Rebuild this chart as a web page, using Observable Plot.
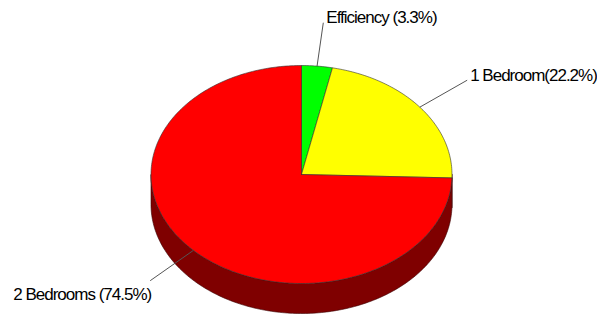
<!DOCTYPE html>
<html>
<head>
<meta charset="utf-8">
<script src="https://cdn.jsdelivr.net/npm/d3@7"></script>
<script src="https://cdn.jsdelivr.net/npm/@observablehq/plot@0.6"></script>
<style>
  html, body { margin: 0; padding: 0; background: #fff; }
</style>
</head>
<body>
<div id="chart"></div>
<script>
// ---- data ----
const categories = ["Efficiency", "1 Bedroom", "2 Bedrooms"];
const shares = [3.3, 22.2, 74.5];
const labels = ["Efficiency (3.3%)", "1 Bedroom(22.2%)", "2 Bedrooms (74.5%)"];
const topColors = ["#00ff00", "#ffff00", "#ff0000"];
const sideColors = ["#008000", "#808000", "#7f0000"];

// ---- layout (pixel geometry of the tilted pie) ----
const W = 597, H = 318;
const cx = 301, cy = 174, rx = 150.5, ry = 109, depthPx = 30;
const depth = depthPx / ry; // in y-units
const leader = 1.4;         // leader line end, as fraction of radius

const total = d3.sum(shares);
let acc = 0;
const slices = categories.map((c, i) => {
  const a0 = acc / total * 360;
  acc += shares[i];
  const a1 = acc / total * 360;
  return {category: c, label: labels[i], a0, a1, mid: (a0 + a1) / 2, top: topColors[i], side: sideColors[i]};
});

const rad = a => a * Math.PI / 180;
const px = a => Math.sin(rad(a));
const py = a => -Math.cos(rad(a));
const arc = (a0, a1) => {
  const n = Math.max(2, Math.ceil(Math.abs(a1 - a0)));
  return d3.range(n + 1).map(k => a0 + (a1 - a0) * k / n);
};

// top faces
const topPts = [];
for (const s of slices) {
  topPts.push({id: s.category, x: 0, y: 0, fill: s.top});
  for (const a of arc(s.a0, s.a1)) topPts.push({id: s.category, x: px(a), y: py(a), fill: s.top});
  topPts.push({id: s.category, x: 0, y: 0, fill: s.top});
}

// visible side walls (front half: 90°..270°)
const sidePts = [];
for (const s of slices) {
  const b0 = Math.max(s.a0, 90), b1 = Math.min(s.a1, 270);
  if (b1 <= b0) continue;
  const up = arc(b0, b1).map(a => ({id: s.category, x: px(a), y: py(a), fill: s.side}));
  const down = arc(b0, b1).reverse().map(a => ({id: s.category, x: px(a), y: py(a) + depth, fill: s.side}));
  sidePts.push(...up, ...down, up[0]);
}

// leader lines and labels
const leaders = slices.map(s => ({
  label: s.label,
  x1: px(s.mid), y1: py(s.mid),
  x2: leader * px(s.mid), y2: leader * py(s.mid),
  right: px(s.mid) >= 0
}));

const chart = Plot.plot({
  width: W, height: H,
  marginTop: 0, marginRight: 0, marginBottom: 0, marginLeft: 0,
  x: {domain: [-cx / rx, (W - cx) / rx], range: [0, W], axis: null},
  y: {domain: [-cy / ry, (H - cy) / ry], range: [0, H], axis: null},
  color: {type: "identity"},
  style: "font-family: 'Liberation Sans', Arial, sans-serif; letter-spacing: -1px; background: #fff;",
  marks: [
    Plot.line(sidePts, {x: "x", y: "y", z: "id", fill: "fill", stroke: "#3a0000", strokeWidth: 0.6, curve: "linear"}),
    Plot.line(topPts, {x: "x", y: "y", z: "id", fill: "fill", stroke: "#333", strokeWidth: 0.6, curve: "linear"}),
    Plot.link(leaders, {x1: "x1", y1: "y1", x2: "x2", y2: "y2", stroke: "#555", strokeWidth: 1}),
    Plot.text(leaders.filter(d => d.right), {x: "x2", y: "y2", text: "label", textAnchor: "start", dx: 3, dy: -5, fontSize: 17, fill: "#000"}),
    Plot.text(leaders.filter(d => !d.right), {x: "x2", y: "y2", text: "label", textAnchor: "end", dx: 1, dy: 14, fontSize: 17, fill: "#000"})
  ]
});
document.getElementById("chart").appendChild(chart);
</script>
</body>
</html>
